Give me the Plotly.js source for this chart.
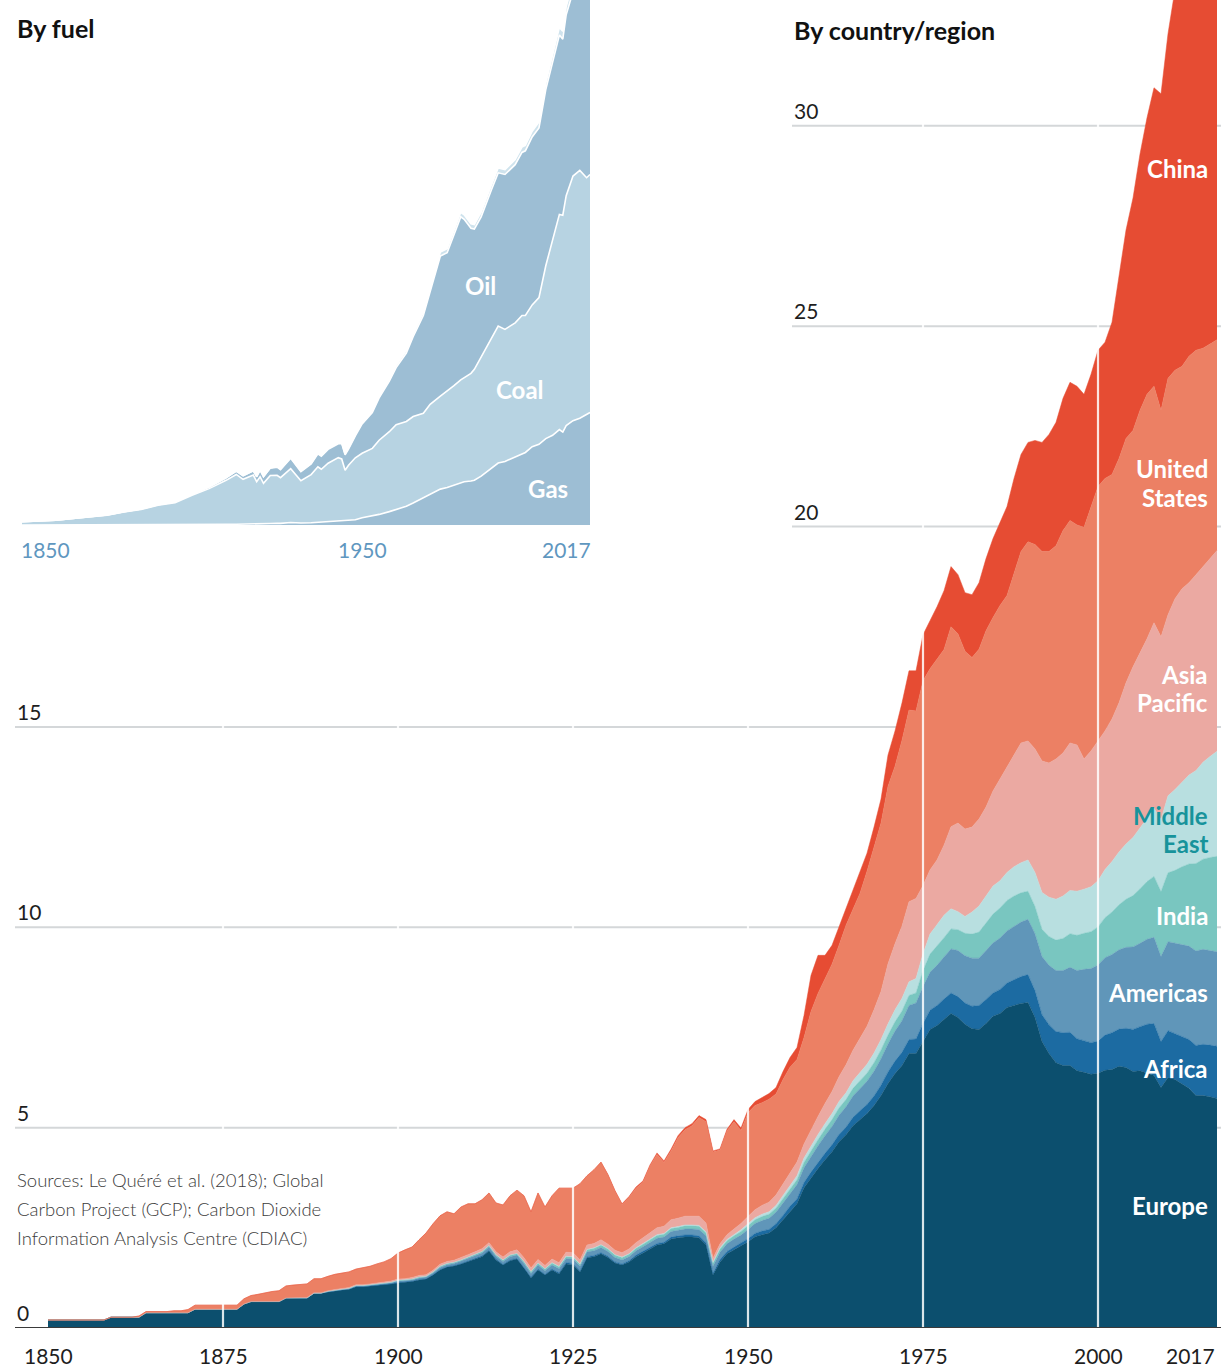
<!DOCTYPE html>
<html>
<head>
<meta charset="utf-8">
<script src="https://cdn.plot.ly/plotly-3.0.1.min.js"></script>
<style>
html,body{margin:0;padding:0;background:#ffffff;}
#chart{width:1221px;height:1367px;}
</style>
</head>
<body>
<div id="chart"></div>
<script>
// ---------------- DATA: CO2 emissions by country/region, GtCO2 ----------------
const firstYear = 1850, lastYear = 2017;
const years = [];
for (let y = firstYear; y <= lastYear; y++) years.push(y);

// one row per decade: 1850s ... 2010s (2010-2017)
const europe = [
0.20,0.20,0.20,0.20,0.20,0.20,0.20,0.20,0.20,0.27,
0.27,0.27,0.27,0.27,0.38,0.38,0.38,0.38,0.38,0.38,
0.38,0.47,0.47,0.47,0.47,0.47,0.47,0.47,0.60,0.66,
0.66,0.66,0.66,0.66,0.75,0.75,0.75,0.75,0.87,0.87,
0.90,0.93,0.95,0.97,1.03,1.03,1.05,1.07,1.08,1.10,
1.13,1.14,1.16,1.20,1.22,1.32,1.45,1.52,1.55,1.60,
1.66,1.72,1.78,1.92,1.70,1.57,1.68,1.72,1.50,1.25,
1.45,1.32,1.45,1.35,1.60,1.58,1.40,1.75,1.78,1.85,
1.76,1.62,1.57,1.65,1.78,1.87,1.98,2.07,2.10,2.22,
2.25,2.27,2.27,2.25,2.08,1.32,1.65,1.85,1.95,2.05,
2.15,2.28,2.33,2.37,2.50,2.70,2.92,3.10,3.50,3.75,
3.98,4.20,4.40,4.65,4.82,5.05,5.20,5.35,5.55,5.80,
6.10,6.35,6.55,6.85,6.85,7.15,7.45,7.55,7.70,7.85,
7.75,7.58,7.47,7.45,7.60,7.78,7.85,8.00,8.05,8.10,
8.12,7.75,7.15,6.85,6.62,6.55,6.55,6.42,6.38,6.33,
6.36,6.43,6.45,6.53,6.50,6.40,6.42,6.36,6.30,6.00,
6.25,6.20,6.10,5.98,5.80,5.80,5.77,5.73];

const africa = [
0,0,0,0,0,0,0,0,0,0,
0,0,0,0,0,0,0,0,0,0,
0,0,0,0,0,0,0,0,0,0,
0,0,0,0,0,0,0,0,0,0,
0,0,0,0,0,0,0,0,0,0,
0.01,0.01,0.01,0.01,0.01,0.01,0.01,0.01,0.01,0.01,
0.02,0.02,0.02,0.02,0.02,0.02,0.02,0.02,0.02,0.02,
0.02,0.02,0.02,0.03,0.03,0.03,0.03,0.03,0.03,0.03,
0.03,0.03,0.03,0.03,0.04,0.04,0.04,0.04,0.04,0.05,
0.05,0.05,0.05,0.05,0.05,0.05,0.06,0.06,0.07,0.07,
0.08,0.08,0.09,0.09,0.10,0.11,0.12,0.12,0.13,0.14,
0.15,0.16,0.17,0.18,0.19,0.21,0.22,0.23,0.24,0.26,
0.29,0.31,0.33,0.35,0.36,0.45,0.48,0.50,0.51,0.51,
0.52,0.53,0.56,0.60,0.60,0.58,0.60,0.61,0.64,0.67,
0.70,0.67,0.67,0.72,0.78,0.82,0.83,0.80,0.79,0.79,
0.80,0.88,0.92,0.93,0.98,1.05,1.10,1.22,1.30,1.15,
1.17,1.14,1.16,1.22,1.25,1.28,1.29,1.30];

const americas = [
0,0,0,0,0,0,0,0,0,0,
0,0,0,0,0,0,0,0,0,0,
0,0,0,0,0,0,0,0,0,0,
0,0,0,0,0,0,0,0,0,0,
0.01,0.01,0.01,0.01,0.02,0.02,0.02,0.02,0.02,0.03,
0.03,0.03,0.03,0.04,0.04,0.04,0.05,0.05,0.05,0.06,
0.06,0.07,0.07,0.08,0.07,0.07,0.08,0.08,0.09,0.09,
0.10,0.09,0.10,0.10,0.10,0.11,0.11,0.12,0.12,0.13,
0.12,0.11,0.10,0.10,0.11,0.12,0.12,0.13,0.13,0.14,
0.14,0.15,0.15,0.16,0.17,0.17,0.18,0.19,0.20,0.20,
0.23,0.25,0.26,0.28,0.29,0.31,0.34,0.36,0.37,0.40,
0.42,0.44,0.46,0.48,0.51,0.53,0.56,0.58,0.62,0.66,
0.70,0.75,0.79,0.85,0.90,0.92,0.95,1.00,1.05,1.10,
1.15,1.18,1.20,1.18,1.22,1.25,1.28,1.30,1.33,1.36,
1.38,1.42,1.45,1.48,1.52,1.55,1.62,1.70,1.78,1.85,
1.90,1.93,1.95,1.98,2.02,2.06,2.08,2.12,2.15,2.12,
2.22,2.26,2.30,2.33,2.36,2.37,2.36,2.36];

const india = [
0,0,0,0,0,0,0,0,0,0,
0,0,0,0,0,0,0,0,0,0,
0,0,0,0,0,0,0,0,0,0,
0,0,0,0,0,0,0,0,0,0,
0.01,0.01,0.01,0.01,0.01,0.01,0.01,0.01,0.01,0.01,
0.02,0.02,0.02,0.02,0.02,0.03,0.03,0.03,0.03,0.03,
0.03,0.03,0.04,0.04,0.04,0.04,0.04,0.04,0.05,0.05,
0.05,0.05,0.05,0.05,0.05,0.05,0.05,0.05,0.06,0.06,
0.06,0.06,0.06,0.06,0.06,0.06,0.06,0.07,0.07,0.07,
0.07,0.08,0.08,0.08,0.08,0.08,0.08,0.08,0.08,0.09,
0.09,0.09,0.10,0.10,0.10,0.11,0.11,0.12,0.13,0.14,
0.15,0.16,0.17,0.18,0.18,0.19,0.20,0.20,0.21,0.22,
0.22,0.23,0.24,0.25,0.25,0.40,0.45,0.48,0.48,0.50,
0.52,0.56,0.60,0.65,0.68,0.72,0.75,0.76,0.76,0.73,
0.70,0.68,0.68,0.72,0.76,0.80,0.84,0.88,0.90,0.92,
0.95,1.00,1.06,1.12,1.20,1.28,1.36,1.44,1.52,1.62,
1.72,1.82,1.95,2.05,2.18,2.25,2.32,2.38];

const middleEast = [
0,0,0,0,0,0,0,0,0,0,
0,0,0,0,0,0,0,0,0,0,
0,0,0,0,0,0,0,0,0,0,
0,0,0,0,0,0,0,0,0,0,
0,0,0,0,0,0,0,0,0,0,
0,0,0,0,0,0,0,0,0,0,
0,0,0,0,0,0,0,0,0,0,
0.00,0.00,0.01,0.01,0.01,0.01,0.01,0.01,0.01,0.01,
0.01,0.01,0.01,0.01,0.01,0.02,0.02,0.02,0.02,0.02,
0.02,0.02,0.02,0.02,0.02,0.02,0.03,0.03,0.03,0.04,
0.05,0.05,0.06,0.06,0.07,0.08,0.09,0.10,0.11,0.12,
0.13,0.14,0.15,0.16,0.17,0.19,0.20,0.22,0.24,0.26,
0.28,0.30,0.32,0.34,0.36,0.42,0.50,0.55,0.56,0.50,
0.45,0.42,0.55,0.65,0.68,0.70,0.68,0.70,0.73,0.75,
0.78,0.85,0.92,0.98,1.02,1.06,1.08,1.10,1.10,1.12,
1.15,1.20,1.26,1.32,1.38,1.45,1.52,1.60,1.70,1.80,
1.92,2.02,2.12,2.22,2.32,2.42,2.52,2.62];

const asiaPacific = [
0,0,0,0,0,0,0,0,0,0,
0,0,0,0,0,0,0,0,0,0,
0,0,0,0,0,0,0,0,0,0,
0,0,0,0,0,0.01,0.01,0.01,0.01,0.01,
0.01,0.01,0.01,0.02,0.02,0.02,0.02,0.02,0.03,0.03,
0.03,0.03,0.04,0.04,0.04,0.04,0.05,0.05,0.05,0.05,
0.06,0.06,0.07,0.07,0.07,0.07,0.08,0.09,0.09,0.09,
0.09,0.08,0.09,0.09,0.10,0.10,0.10,0.11,0.11,0.12,
0.11,0.11,0.11,0.12,0.13,0.14,0.15,0.17,0.18,0.20,
0.21,0.22,0.22,0.23,0.22,0.10,0.10,0.12,0.14,0.16,
0.18,0.20,0.22,0.24,0.26,0.28,0.31,0.34,0.35,0.40,
0.45,0.50,0.55,0.62,0.70,0.76,0.85,0.95,1.08,1.20,
1.50,1.65,1.80,2.00,2.00,1.70,1.60,1.60,1.75,2.05,
2.21,2.18,2.12,2.17,2.22,2.37,2.54,2.63,2.79,2.99,
2.97,3.08,3.28,3.35,3.50,3.57,3.68,3.65,3.25,3.39,
3.49,3.46,3.56,3.72,4.02,4.26,4.37,4.46,4.63,4.56,
4.52,4.76,4.82,4.80,4.89,4.88,4.94,5.01];

const unitedStates = [
0,0,0,0,0,0,0,0,0,0,
0,0,0,0.03,0.03,0.03,0.03,0.03,0.05,0.05,
0.08,0.10,0.10,0.10,0.10,0.10,0.10,0.10,0.13,0.15,
0.18,0.22,0.25,0.27,0.30,0.31,0.33,0.34,0.35,0.35,
0.36,0.38,0.39,0.39,0.39,0.42,0.44,0.48,0.51,0.56,
0.65,0.72,0.76,0.89,1.04,1.16,1.21,1.24,1.16,1.27,
1.27,1.20,1.22,1.24,1.22,1.30,1.40,1.49,1.55,1.40,
1.66,1.46,1.58,1.86,1.60,1.61,1.90,1.73,1.84,1.94,
1.72,1.47,1.20,1.29,1.36,1.39,1.67,1.83,1.59,1.72,
2.01,2.16,2.26,2.46,2.53,2.65,2.34,2.59,2.68,2.32,
2.59,2.60,2.56,2.57,2.52,2.61,2.62,2.56,2.66,2.95,
3.07,3.10,3.18,3.28,3.48,3.52,3.62,3.87,4.06,4.20,
4.43,4.43,4.64,4.78,4.68,5.11,5.02,5.02,4.88,4.99,
4.72,4.44,4.23,4.24,4.40,4.33,4.33,4.28,4.52,4.78,
4.97,5.10,5.23,5.28,5.32,5.55,5.55,5.49,5.78,6.08,
6.35,6.30,6.10,6.10,6.10,5.90,6.05,6.10,5.90,5.65,
5.90,5.70,5.55,5.65,5.60,5.45,5.35,5.26];

const china = [
0,0,0,0,0,0,0,0,0,0,
0,0,0,0,0,0,0,0,0,0,
0,0,0,0,0,0,0,0,0,0,
0,0,0,0,0,0,0,0,0,0,
0,0,0,0,0,0,0,0,0,0,
0,0,0,0,0,0,0,0,0,0,
0,0,0,0,0,0,0,0,0,0,
0,0,0,0,0,0,0,0,0,0,
0.02,0.02,0.02,0.02,0.03,0.03,0.03,0.04,0.04,0.04,
0.05,0.05,0.05,0.05,0.05,0.03,0.03,0.04,0.05,0.06,
0.08,0.10,0.13,0.14,0.16,0.20,0.24,0.30,0.55,0.90,
0.95,0.60,0.47,0.45,0.45,0.50,0.55,0.45,0.50,0.60,
0.78,0.88,0.93,0.98,1.00,1.15,1.20,1.30,1.47,1.50,
1.48,1.46,1.57,1.66,1.80,1.97,2.07,2.22,2.38,2.42,
2.48,2.60,2.72,2.92,3.08,3.30,3.45,3.46,3.32,3.32,
3.40,3.40,3.80,4.50,5.20,5.80,6.40,6.90,7.45,7.90,
8.60,9.50,9.75,9.95,10.00,9.90,9.85,9.84];

const regionNames  = ['Europe','Africa','Americas','India','Middle East','Asia Pacific','United States','China'];
const regionValues = [europe, africa, americas, india, middleEast, asiaPacific, unitedStates, china];

// ---------------- DATA: inset, by fuel, GtCO2 ----------------
const fuelYears = [
1850,1855,1860,1865,1870,1875,1880,1885,1890,1895,
1900,1905,1910,1913,1915,1918,1919,1920,1921,1923,
1925,1926,1929,1932,1935,1937,1938,1940,1943,1944,
1945,1946,1948,1950,1953,1955,1958,1960,1963,1965,
1968,1970,1973,1975,1977,1979,1980,1982,1983,1985,
1988,1990,1992,1995,1997,1998,2000,2002,2004,2006,
2008,2009,2010,2012,2014,2016,2017];
const gas = [
0,0,0,0,0,0,0,0,0.01,0.01,
0.02,0.03,0.04,0.05,0.05,0.06,0.06,0.06,0.06,0.09,
0.10,0.10,0.15,0.12,0.14,0.17,0.17,0.19,0.23,0.25,
0.26,0.26,0.32,0.45,0.55,0.65,0.82,0.95,1.15,1.35,
1.65,1.90,2.20,2.30,2.45,2.60,2.65,2.70,2.75,3.00,
3.45,3.80,3.90,4.20,4.40,4.45,4.80,4.95,5.30,5.50,
5.85,5.70,6.10,6.40,6.55,6.80,6.90];
const coal = [
0.20,0.25,0.30,0.40,0.50,0.60,0.80,0.95,1.20,1.35,
1.80,2.20,2.70,3.05,2.75,3.00,2.60,2.90,2.50,2.95,
2.95,2.80,3.30,2.60,2.95,3.40,3.25,3.60,3.90,3.80,
3.10,3.40,3.80,3.95,4.15,4.55,4.90,5.20,5.20,5.30,
5.20,5.50,5.70,5.90,6.10,6.30,6.40,6.60,6.80,7.30,
8.00,8.40,8.10,8.20,8.45,8.40,8.70,9.00,10.60,12.00,
13.20,13.30,14.10,15.00,15.20,14.50,14.60];
const oil = [
0,0,0,0,0.01,0.01,0.02,0.03,0.04,0.05,
0.07,0.10,0.15,0.20,0.22,0.26,0.30,0.40,0.40,0.45,
0.50,0.50,0.65,0.55,0.65,0.80,0.80,0.85,0.85,0.95,
0.95,1.00,1.35,1.80,2.20,2.60,3.10,3.50,4.20,4.90,
6.00,6.90,8.60,8.50,9.20,10.00,9.70,8.90,8.60,8.60,
9.10,9.40,9.50,9.70,10.00,10.10,10.30,10.40,10.80,10.90,
11.00,10.80,11.10,11.30,11.50,11.80,12.00];
const otherFuel = [
0,0,0,0,0,0,0,0,0,0,
0,0,0.01,0.01,0.01,0.01,0.01,0.02,0.02,0.02,
0.03,0.03,0.04,0.03,0.04,0.05,0.05,0.05,0.05,0.05,
0.05,0.06,0.07,0.08,0.10,0.12,0.14,0.15,0.17,0.18,
0.20,0.22,0.24,0.25,0.26,0.28,0.28,0.27,0.27,0.28,
0.29,0.30,0.30,0.32,0.33,0.33,0.35,0.37,0.40,0.43,
0.47,0.48,0.50,0.53,0.55,0.57,0.58];
const fuelNames  = ['Gas','Coal','Oil','Other'];
const fuelValues = [gas, coal, oil, otherFuel];

// ---------------- tick labels ----------------
const xTickYears  = [1850, 1875, 1900, 1925, 1950, 1975, 2000];
const xEndLabel   = 2017;
const yTicksLeft  = [0, 5, 10, 15];
const yTicksRight = [20, 25, 30];
const insetTicks  = [1850, 1950, 2017];
const sourceLines = [
  'Sources: Le Quéré et al. (2018); Global',
  'Carbon Project (GCP); Carbon Dioxide',
  'Information Analysis Centre (CDIAC)'
];

// ---------------- styling ----------------
const W = 1221, H = 1367;
const M = {l: 15, r: 0, t: 0, b: 39};
const PW = W - M.l - M.r, PH = H - M.t - M.b;
const px = x => (x - M.l) / PW;          // pixel -> paper x
const py = y => (PH + M.t - y) / PH;     // pixel -> paper y

const regionColors = ['#0c4f6e','#1c6ba2','#6096b9','#79c6c0','#b8dfe0','#eba9a2','#ec8064','#e64c33'];
const fuelColors   = ['#9dbed4','#b7d3e2','#9dbed4','#cfe3ed'];
const FONT = 'Lato, "Open Sans", "Noto Sans", sans-serif';

const traces = [];
regionNames.forEach((name, i) => {
  traces.push({
    type: 'scatter', mode: 'lines', name: name,
    x: years, y: regionValues[i],
    stackgroup: 'regions',
    line: {width: 0.5, color: regionColors[i]},
    fillcolor: regionColors[i],
    hoverinfo: 'skip',
    xaxis: 'x', yaxis: 'y'
  });
});
fuelNames.forEach((name, i) => {
  traces.push({
    type: 'scatter', mode: 'lines', name: name,
    x: fuelYears, y: fuelValues[i],
    stackgroup: 'fuel',
    line: {width: 1.6, color: '#ffffff'},
    fillcolor: fuelColors[i],
    hoverinfo: 'skip',
    xaxis: 'x2', yaxis: 'y2'
  });
});

const shapes = [];
const gridColor = '#d4d7d9';
const rightGridStart = px(792);
yTicksLeft.filter(v => v > 0).forEach(v => shapes.push({
  type: 'line', layer: 'below', xref: 'paper', yref: 'y', x0: 0, x1: 1, y0: v, y1: v,
  line: {color: gridColor, width: 2}
}));
yTicksRight.forEach(v => shapes.push({
  type: 'line', layer: 'below', xref: 'paper', yref: 'y', x0: rightGridStart, x1: 1, y0: v, y1: v,
  line: {color: gridColor, width: 2}
}));
// vertical white year markers
const insetBottomValue = (PH - 532) / PH * 33.14;
xTickYears.slice(1).forEach(yr => shapes.push({
  type: 'line', layer: 'above', xref: 'x', yref: 'y', x0: yr, x1: yr, y0: 0,
  y1: yr <= 1925 ? insetBottomValue : 33.14,
  line: {color: 'rgba(255,255,255,0.85)', width: 2.2}
}));
// baseline
shapes.push({type: 'line', layer: 'above', xref: 'paper', yref: 'y', x0: 0, x1: 1, y0: 0, y1: 0,
  line: {color: '#3a3a3a', width: 2.2}});

const ann = [];
const tickFont = {family: FONT, size: 21, color: '#1e1e1e', weight: 400};
yTicksLeft.forEach(v => ann.push({
  xref: 'paper', yref: 'y', x: 0, y: v, xanchor: 'left', yanchor: 'bottom', yshift: 1,
  text: String(v), showarrow: false, font: tickFont
}));
yTicksRight.forEach(v => ann.push({
  xref: 'paper', yref: 'y', x: rightGridStart, y: v, xanchor: 'left', yanchor: 'bottom', yshift: 1,
  text: String(v), showarrow: false, font: tickFont
}));
xTickYears.forEach(yr => ann.push({
  xref: 'x', yref: 'paper', x: yr, y: py(1355), xanchor: 'center', yanchor: 'middle',
  text: String(yr), showarrow: false, font: tickFont
}));
ann.push({xref: 'x', yref: 'paper', x: xEndLabel, y: py(1355), xanchor: 'right', yanchor: 'middle',
  text: String(xEndLabel), showarrow: false, font: tickFont});

// inset ticks
const insetTickFont = {family: FONT, size: 21, color: '#5f97bf', weight: 400};
insetTicks.forEach((yr, i) => ann.push({
  xref: 'x2', yref: 'paper', x: yr, y: py(549),
  xanchor: i === 0 ? 'left' : (i === insetTicks.length - 1 ? 'right' : 'center'),
  xshift: i === 0 ? -3 : (i === insetTicks.length - 1 ? 3 : 0),
  yanchor: 'middle', text: String(yr), showarrow: false, font: insetTickFont
}));

// titles
const titleFont = {family: FONT, size: 25, color: '#111111', weight: 700};
ann.push({xref: 'paper', yref: 'paper', x: 0, y: py(28), xanchor: 'left', yanchor: 'middle',
  text: 'By fuel', showarrow: false, font: titleFont});
ann.push({xref: 'paper', yref: 'paper', x: rightGridStart, y: py(30), xanchor: 'left', yanchor: 'middle',
  text: 'By country/region', showarrow: false, font: titleFont});

// sources
sourceLines.forEach((t, i) => ann.push({
  xref: 'paper', yref: 'paper', x: 0, y: py(1180 + i * 29), xanchor: 'left', yanchor: 'middle',
  text: t, showarrow: false, font: {family: FONT, size: 18.5, color: '#3c3c3c', weight: 300}
}));

// region labels
const labelFont = {family: FONT, size: 24, color: '#ffffff', weight: 700};
const regionLabelLines = [
  ['China', 168], ['United', 469], ['States', 497], ['Asia', 674], ['Pacific', 702],
  ['Middle', 815, '#17939b'], ['East', 843, '#17939b'], ['India', 915], ['Americas', 992],
  ['Africa', 1068], ['Europe', 1205]
];
regionLabelLines.forEach(([t, yy, c]) => ann.push({
  xref: 'paper', yref: 'paper', x: px(1210), y: py(yy), xanchor: 'right', yanchor: 'middle',
  text: t, showarrow: false, font: Object.assign({}, labelFont, c ? {color: c} : {})
}));
// fuel labels
[['Oil', 480, 285], ['Coal', 520, 389], ['Gas', 548, 488]].forEach(([t, xx, yy]) => ann.push({
  xref: 'paper', yref: 'paper', x: px(xx), y: py(yy), xanchor: 'center', yanchor: 'middle',
  text: t, showarrow: false, font: labelFont
}));

const hidden = {showgrid: false, zeroline: false, showticklabels: false, showline: false, ticks: '', fixedrange: true};
const layout = {
  width: W, height: H, margin: M,
  paper_bgcolor: '#ffffff', plot_bgcolor: 'rgba(0,0,0,0)',
  showlegend: false,
  xaxis: Object.assign({range: [1850 - 33 / 7, 2017 + 4 / 7], domain: [0, 1]}, hidden),
  yaxis: Object.assign({range: [0, 33.14], domain: [0, 1]}, hidden),
  xaxis2: Object.assign({range: [1850, 2017], domain: [px(22), px(590)], anchor: 'y2'}, hidden),
  yaxis2: Object.assign({range: [0, 32.2], domain: [py(525), 1], anchor: 'x2'}, hidden),
  shapes: shapes,
  annotations: ann,
  font: {family: FONT}
};

Plotly.newPlot('chart', traces, layout, {displayModeBar: false, staticPlot: true});
</script>
</body>
</html>
